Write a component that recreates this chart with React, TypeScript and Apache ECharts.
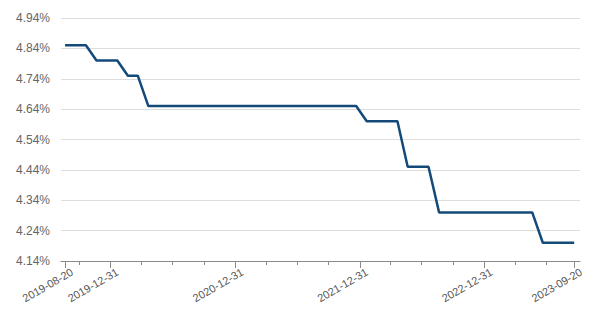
import React, { useEffect, useRef } from "react";
import * as echarts from "echarts";

// Monthly fixing dates (20th of each month) from 2019-08 to 2023-09
const months: string[] = [];
for (let y = 2019; y <= 2023; y++) {
  for (let m = 1; m <= 12; m++) {
    if ((y === 2019 && m < 8) || (y === 2023 && m > 9)) continue;
    months.push(`${y}-${String(m).padStart(2, "0")}-20`);
  }
}

// Rates (%), one per month
const rates2019 = [4.85, 4.85, 4.85, 4.8, 4.8];
const rates2020 = [4.8, 4.75, 4.75, 4.65, 4.65, 4.65, 4.65, 4.65, 4.65, 4.65, 4.65, 4.65];
const rates2021 = [4.65, 4.65, 4.65, 4.65, 4.65, 4.65, 4.65, 4.65, 4.65, 4.65, 4.65, 4.65];
const rates2022 = [4.6, 4.6, 4.6, 4.6, 4.45, 4.45, 4.45, 4.3, 4.3, 4.3, 4.3, 4.3];
const rates2023 = [4.3, 4.3, 4.3, 4.3, 4.3, 4.2, 4.2, 4.2, 4.2];
const rates = [...rates2019, ...rates2020, ...rates2021, ...rates2022, ...rates2023];

// Labelled dates on the x axis
const labelDates = ["2019-08-20", "2019-12-31", "2020-12-31", "2021-12-31", "2022-12-31", "2023-09-20"];

// Y axis
const yMin = 4.14;
const yMax = 4.94;
const yStep = 0.1;

// Axis day range (slightly padded around the data)
const axisStart = "2019-08-08";
const axisEnd = "2023-10-07";

function buildDays(start: string, end: string): string[] {
  const out: string[] = [];
  const d = new Date(start + "T00:00:00Z");
  const e = new Date(end + "T00:00:00Z");
  while (d.getTime() <= e.getTime()) {
    out.push(d.toISOString().slice(0, 10));
    d.setUTCDate(d.getUTCDate() + 1);
  }
  return out;
}

function isQuarterEnd(s: string): boolean {
  const md = s.slice(5);
  return md === "03-31" || md === "06-30" || md === "09-30" || md === "12-31";
}

export default function App() {
  const ref = useRef<HTMLDivElement>(null);

  useEffect(() => {
    if (!ref.current) return;
    const chart = echarts.init(ref.current, null, { renderer: "svg" });
    const days = buildDays(axisStart, axisEnd);
    const first = months[0];
    const last = months[months.length - 1];
    const inRange = (v: string) => v >= first && v <= last;
    const font = "'Liberation Sans', Arial, Helvetica, sans-serif";

    chart.setOption({
      animation: false,
      backgroundColor: "#ffffff",
      grid: { left: 61, right: 20, top: 18, bottom: 65, containLabel: false },
      xAxis: [
        {
          type: "category",
          position: "bottom",
          data: days,
          boundaryGap: false,
          axisLine: { show: true, lineStyle: { color: "#8a8a8a", width: 1 } },
          axisTick: {
            show: true,
            length: 4,
            interval: (_i: number, v: string) => inRange(v) && isQuarterEnd(v) && !labelDates.includes(v),
            lineStyle: { color: "#8a8a8a" },
          },
          axisLabel: { show: false },
          splitLine: { show: false },
        },
        {
          type: "category",
          position: "bottom",
          data: days,
          boundaryGap: false,
          axisLine: { show: false },
          axisTick: {
            show: true,
            length: 7,
            interval: (_i: number, v: string) => labelDates.includes(v),
            lineStyle: { color: "#8a8a8a" },
          },
          axisLabel: {
            show: true,
            interval: (_i: number, v: string) => labelDates.includes(v),
            rotate: 30,
            color: "#555555",
            fontSize: 11,
            fontFamily: font,
            margin: 14,
            padding: [0, -8, 0, 0],
          },
          splitLine: { show: false },
        },
      ],
      yAxis: {
        type: "value",
        min: yMin,
        max: yMax,
        interval: yStep,
        axisLine: { show: false },
        axisTick: { show: false },
        axisLabel: {
          color: "#666666",
          fontSize: 12,
          fontFamily: font,
          margin: 11,
          formatter: (v: number) => v.toFixed(2) + "%",
        },
        splitLine: { show: true, lineStyle: { color: "#dddddd", width: 1 } },
      },
      series: [
        {
          type: "line",
          xAxisIndex: 0,
          data: months.map((m, i) => [m, rates[i]]),
          showSymbol: false,
          symbol: "none",
          lineStyle: { color: "#144a7a", width: 2.5 },
          itemStyle: { color: "#144a7a" },
        },
      ],
    });

    return () => chart.dispose();
  }, []);

  return (
    <div
      ref={ref}
      style={{ position: "fixed", left: 0, top: 0, width: 600, height: 326, background: "#fff" }}
    />
  );
}
